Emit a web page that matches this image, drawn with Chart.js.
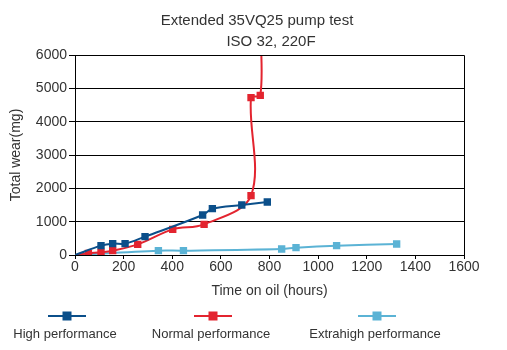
<!DOCTYPE html>
<html>
<head>
<meta charset="utf-8">
<script src="https://cdn.jsdelivr.net/npm/chart.js@4.4.1/dist/chart.umd.min.js"></script>
<style>
  html, body { margin: 0; padding: 0; background: #fff; }
  #wrap { width: 507px; height: 350px; position: relative; }
</style>
</head>
<body>
<div id="wrap"><canvas id="wearChart"></canvas></div>
<script>
// --- data ---
const titleLines = ['Extended 35VQ25 pump test', 'ISO 32, 220F'];
const xTicks = [0, 200, 400, 600, 800, 1000, 1200, 1400, 1600];
const yTicks = [0, 1000, 2000, 3000, 4000, 5000, 6000];

const seriesNames = ['High performance', 'Normal performance', 'Extrahigh performance'];
const seriesColors = ['#0b4f8a', '#e3242f', '#5bb3d5'];

// first point of each series is the origin, drawn without a marker
const highHours = [0, 107, 155, 206, 288, 525, 565, 686, 791];
const highWear  = [0, 280, 340, 340, 550, 1200, 1390, 1500, 1590];

const normalHours = [0, 55, 107, 155, 258, 402, 531, 724, 724, 762, 765];
const normalWear  = [0, 50, 80, 130, 320, 770, 920, 1780, 4720, 4790, 6600];

const extraHours = [0, 343, 446, 850, 909, 1076, 1323];
const extraWear  = [0, 130, 130, 180, 220, 280, 330];

function toPoints(xs, ys) {
    return xs.map((x, i) => ({ x: x, y: ys[i] }));
}

const allHours = [highHours, normalHours, extraHours];
const allWear = [highWear, normalWear, extraWear];

const datasets = seriesNames.map((name, i) => {
    const pts = toPoints(allHours[i], allWear[i]);
    return {
        label: name,
        data: pts,
        showLine: true,
        borderColor: seriesColors[i],
        backgroundColor: seriesColors[i],
        borderWidth: 2,
        tension: 0.35,
        pointStyle: 'rect',
        // hide marker on the origin point and on the off-scale tail of the red curve
        pointRadius: pts.map((p, k) => (k === 0 || p.y > 6000) ? 0 : 3.8),
        pointHoverRadius: 0
    };
});

const FONT = '"Liberation Sans", Arial, sans-serif';
const TEXT = '#333333';

// title, frame and legend drawn by hand to match the reference layout
const decorPlugin = {
    id: 'decor',
    afterDraw(chart) {
        const ctx = chart.ctx;
        const a = chart.chartArea;
        ctx.save();
        // frame on the right and top
        ctx.strokeStyle = '#000';
        ctx.lineWidth = 1;
        ctx.beginPath();
        ctx.moveTo(a.left, a.top + 0.5);
        ctx.lineTo(Math.round(a.right) + 0.5, a.top + 0.5);
        ctx.lineTo(Math.round(a.right) + 0.5, a.bottom);
        ctx.stroke();

        // title
        ctx.fillStyle = TEXT;
        ctx.font = '15px ' + FONT;
        ctx.textAlign = 'center';
        ctx.textBaseline = 'middle';
        ctx.fillText(titleLines[0], 257, 21);
        ctx.fillText(titleLines[1], 271, 42);

        // legend: line + square marker above, label below
        const centers = [67, 213, 377];
        chart.data.datasets.forEach((ds, i) => {
            const cx = centers[i];
            ctx.strokeStyle = ds.borderColor;
            ctx.lineWidth = 2;
            ctx.beginPath();
            ctx.moveTo(cx - 19, 316);
            ctx.lineTo(cx + 19, 316);
            ctx.stroke();
            ctx.fillStyle = ds.borderColor;
            ctx.fillRect(cx - 4.5, 311.5, 9, 9);
            ctx.fillStyle = TEXT;
            ctx.font = '13px ' + FONT;
            ctx.fillText(ds.label, cx - 2, 334);
        });
        ctx.restore();
    }
};

new Chart(document.getElementById('wearChart'), {
    type: 'scatter',
    data: { datasets: datasets },
    options: {
        responsive: true,
        maintainAspectRatio: false,
        animation: false,
        layout: { padding: { top: 55, right: 43, bottom: 46, left: 0 } },
        plugins: {
            legend: { display: false },
            title: { display: false },
            tooltip: { enabled: false }
        },
        scales: {
            x: {
                type: 'linear',
                min: 0,
                max: 1600,
                afterBuildTicks: s => { s.ticks = xTicks.map(v => ({ value: v })); },
                afterFit: s => { s.height = 49; },
                grid: { drawOnChartArea: false, drawTicks: true, tickLength: 4, color: '#000' },
                border: { color: '#000', width: 1 },
                ticks: {
                    color: TEXT,
                    font: { family: FONT, size: 14 },
                    padding: 0,
                    maxRotation: 0,
                    callback: v => String(v)
                },
                title: {
                    display: true,
                    text: 'Time on oil (hours)',
                    color: TEXT,
                    font: { family: FONT, size: 14 },
                    padding: { top: 4, bottom: 4 }
                }
            },
            y: {
                type: 'linear',
                min: 0,
                max: 6000,
                afterBuildTicks: s => { s.ticks = yTicks.map(v => ({ value: v })); },
                afterFit: s => { s.width = 75; },
                grid: { color: '#000', lineWidth: 1, drawTicks: true, tickLength: 6 },
                border: { color: '#000', width: 1 },
                ticks: {
                    color: TEXT,
                    font: { family: FONT, size: 14 },
                    padding: 2,
                    callback: v => String(v)
                },
                title: {
                    display: true,
                    text: 'Total wear(mg)',
                    color: TEXT,
                    font: { family: FONT, size: 14 },
                    padding: { top: 8, bottom: 0 }
                }
            }
        }
    },
    plugins: [decorPlugin]
});
</script>
</body>
</html>
